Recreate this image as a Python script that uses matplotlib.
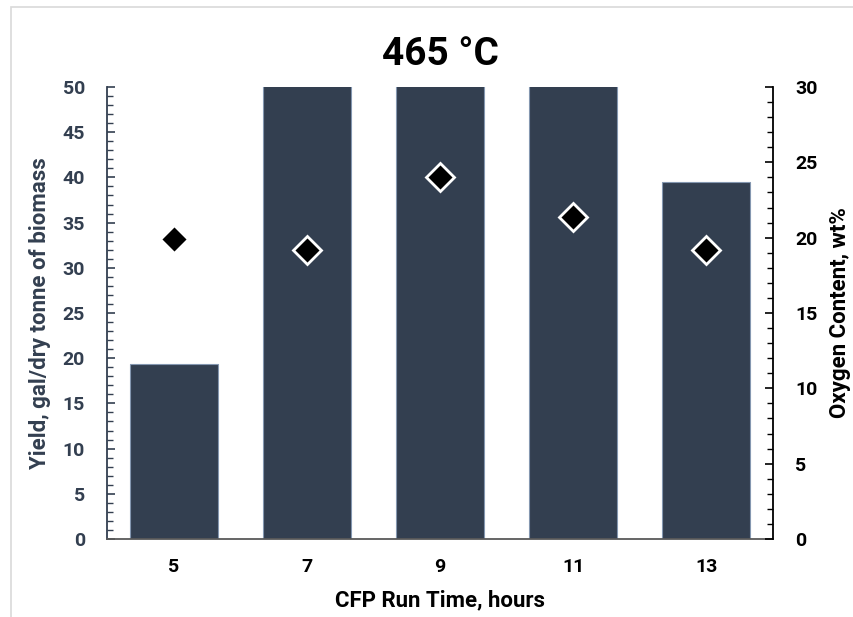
import matplotlib
matplotlib.use("Agg")
import matplotlib.pyplot as plt
from matplotlib.ticker import MultipleLocator
from matplotlib.patches import Rectangle

plt.rcParams['font.family'] = ['Roboto', 'DejaVu Sans']

categories = ["5", "7", "9", "11", "13"]
yield_vals = [19.4, 52.0, 52.0, 52.0, 39.5]
oxygen_vals = [19.9, 19.2, 24.0, 21.4, 19.2]

bar_color = "#333F50"
label_color = "#333F50"

fig = plt.figure(figsize=(8.54, 6.17), dpi=100)
ax = fig.add_axes([107/854, 78/617, 666/854, 452/617])

x = list(range(len(categories)))
ax.bar(x, yield_vals, width=0.66, color=bar_color, edgecolor="#8497B0", linewidth=0.8, zorder=2)
ax.set_xlim(-0.5, len(categories) - 0.5)
ax.set_ylim(0, 50)
ax.set_xticks(x)
ax.set_xticklabels(categories)
ax.yaxis.set_major_locator(MultipleLocator(5))
ax.yaxis.set_minor_locator(MultipleLocator(1))
ax.tick_params(axis='x', length=0, pad=14, labelsize=14, labelcolor="black")
ax.tick_params(axis='y', which='major', direction='in', length=6, width=1.2, color="#333F50",
               labelsize=14, labelcolor=label_color, pad=16)
ax.tick_params(axis='y', which='minor', direction='in', length=4, width=1.0, color="#333F50")
for lab in ax.get_xticklabels() + ax.get_yticklabels():
    lab.set_fontweight('bold')
for s in ['top', 'right']:
    ax.spines[s].set_visible(False)
ax.spines['left'].set_color("#333F50")
ax.spines['left'].set_linewidth(1.3)
ax.spines['bottom'].set_color("#595959")
ax.spines['bottom'].set_linewidth(1.3)

ax.set_xlabel("CFP Run Time, hours", fontsize=16, fontweight='bold', labelpad=9)
ax.set_ylabel("Yield, gal/dry tonne of biomass", fontsize=16, fontweight='bold',
              color=label_color, labelpad=8)
ax.set_title("465 °C", fontsize=28, fontweight='bold', pad=16)

ax2 = ax.twinx()
ax2.plot(x, oxygen_vals, linestyle='none', marker='D', markersize=14,
         markerfacecolor='black', markeredgecolor='white', markeredgewidth=2, zorder=3)
ax2.set_ylim(0, 30)
ax2.yaxis.set_major_locator(MultipleLocator(5))
ax2.yaxis.set_minor_locator(MultipleLocator(1))
ax2.tick_params(axis='y', which='major', direction='in', length=6, width=1.2, color="black",
                labelsize=14, labelcolor="black", pad=16)
ax2.tick_params(axis='y', which='minor', direction='in', length=4, width=1.0, color="black")
for lab in ax2.get_yticklabels():
    lab.set_fontweight('bold')
for s in ['top', 'left', 'bottom']:
    ax2.spines[s].set_visible(False)
ax2.spines['right'].set_color("black")
ax2.spines['right'].set_linewidth(1.3)
ax2.set_ylabel("Oxygen Content, wt%", fontsize=16, fontweight='bold', labelpad=8)

# chart border
fig.patches.append(Rectangle((11/854, -0.1), 1.2, (610/617) + 0.1, transform=fig.transFigure,
                             fill=False, edgecolor="#D9D9D9", linewidth=1.2))

fig.savefig("out.png", dpi=100)
